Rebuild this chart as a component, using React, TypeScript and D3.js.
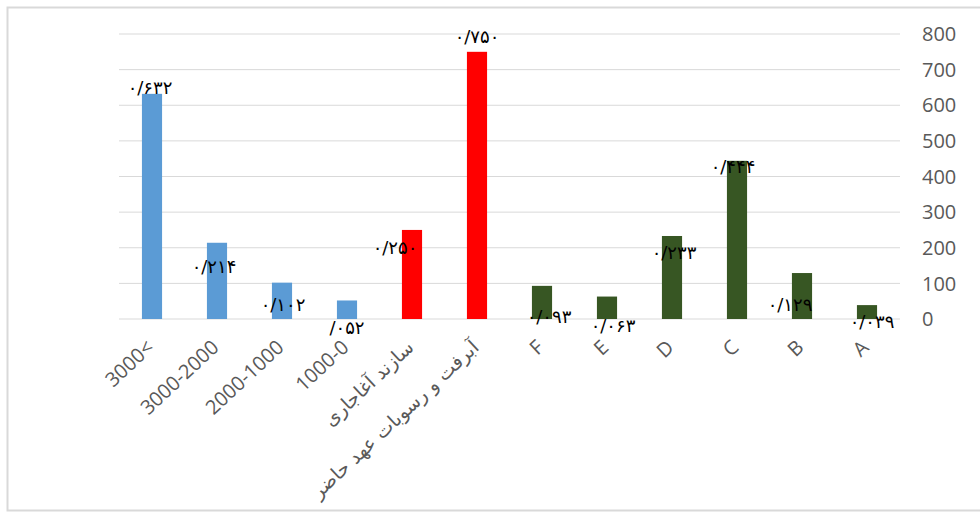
import React from 'react';
import * as d3 from 'd3';

const categories = [
  '3000<',
  '3000-2000',
  '2000-1000',
  '1000-0',
  'سازند آغاجاری',
  'آبرفت و رسوبات عهد حاضر',
  'F',
  'E',
  'D',
  'C',
  'B',
  'A',
];

const values = [632, 214, 102, 52, 250, 750, 93, 63, 233, 444, 129, 39];

const valueLabels = [
  '۰/۶۳۲',
  '۰/۲۱۴',
  '۰/۱۰۲',
  '/۰۵۲',
  '۰/۲۵۰',
  '۰/۷۵۰',
  '۰/۰۹۳',
  '۰/۰۶۳',
  '۰/۲۳۳',
  '۰/۴۴۴',
  '۰/۱۲۹',
  '۰/۰۳۹',
];

const barColors = [
  '#5b9bd5', '#5b9bd5', '#5b9bd5', '#5b9bd5',
  '#ff0000', '#ff0000',
  '#375623', '#375623', '#375623', '#375623', '#375623', '#375623',
];

const yTicks = [0, 100, 200, 300, 400, 500, 600, 700, 800];

// hand-placed data label nudges (px), relative to bar centre / bar top
const labelNudge: [number, number][] = [
  [-2, -6], [-3, 24], [1, 22], [0, 27], [-17, 18], [0, -15],
  [7, 31], [6, 29], [2, 17], [-4, 6], [-12, 32], [5, 17],
];

const width = 980;
const height = 512;

const App: React.FC = () => {
  const x = d3
    .scaleBand<string>()
    .domain(categories)
    .range([119.5, 899.5])
    .paddingInner(0.69)
    .paddingOuter(0.345);

  const y = d3.scaleLinear().domain([0, 800]).range([319, 34]);

  const latinFont = "'Open Sans', 'Liberation Sans', sans-serif";
  const arabicFont = "'DejaVu Sans', sans-serif";

  return (
    <svg
      width={width}
      height={height}
      viewBox={`0 0 ${width} ${height}`}
      style={{ position: 'absolute', left: 0, top: 0, background: '#ffffff' }}
    >
      <rect x={7.5} y={7.5} width={980} height={503} fill="#ffffff" stroke="#d9d9d9" strokeWidth={2} />

      {yTicks.map(t => (
        <g key={t}>
          <line x1={119} x2={900} y1={y(t)} y2={y(t)} stroke="#d9d9d9" strokeWidth={1} />
          <text
            x={922}
            y={y(t)}
            dy="0.36em"
            fontFamily={latinFont}
            fontSize={20}
            fill="#595959"
          >
            {t}
          </text>
        </g>
      ))}

      {categories.map((c, i) => (
        <rect
          key={c}
          x={x(c) ?? 0}
          y={y(values[i])}
          width={x.bandwidth()}
          height={y(0) - y(values[i])}
          fill={barColors[i]}
        />
      ))}

      {categories.map((c, i) => {
        const cx = (x(c) ?? 0) + x.bandwidth() / 2 + labelNudge[i][0];
        const cy = y(values[i]) + labelNudge[i][1];
        return (
          <text
            key={`v-${c}`}
            x={cx}
            y={cy}
            dy="0.35em"
            textAnchor="middle"
            fontFamily={arabicFont}
            fontSize={18}
            fill="#000000"
          >
            {valueLabels[i]}
          </text>
        );
      })}

      {categories.map((c, i) => {
        const ax = (x(c) ?? 0) + x.bandwidth() / 2 + 3;
        const ay = 349;
        const isLatin = /^[0-9A-Z<\-]+$/.test(c);
        return (
          <text
            key={`c-${c}`}
            transform={`translate(${ax},${ay}) rotate(-43)`}
            textAnchor="end"
            fontFamily={isLatin ? latinFont : arabicFont}
            fontSize={isLatin ? 20 : 19}
            fill="#595959"
          >
            {c}
          </text>
        );
      })}
    </svg>
  );
};

export default App;
